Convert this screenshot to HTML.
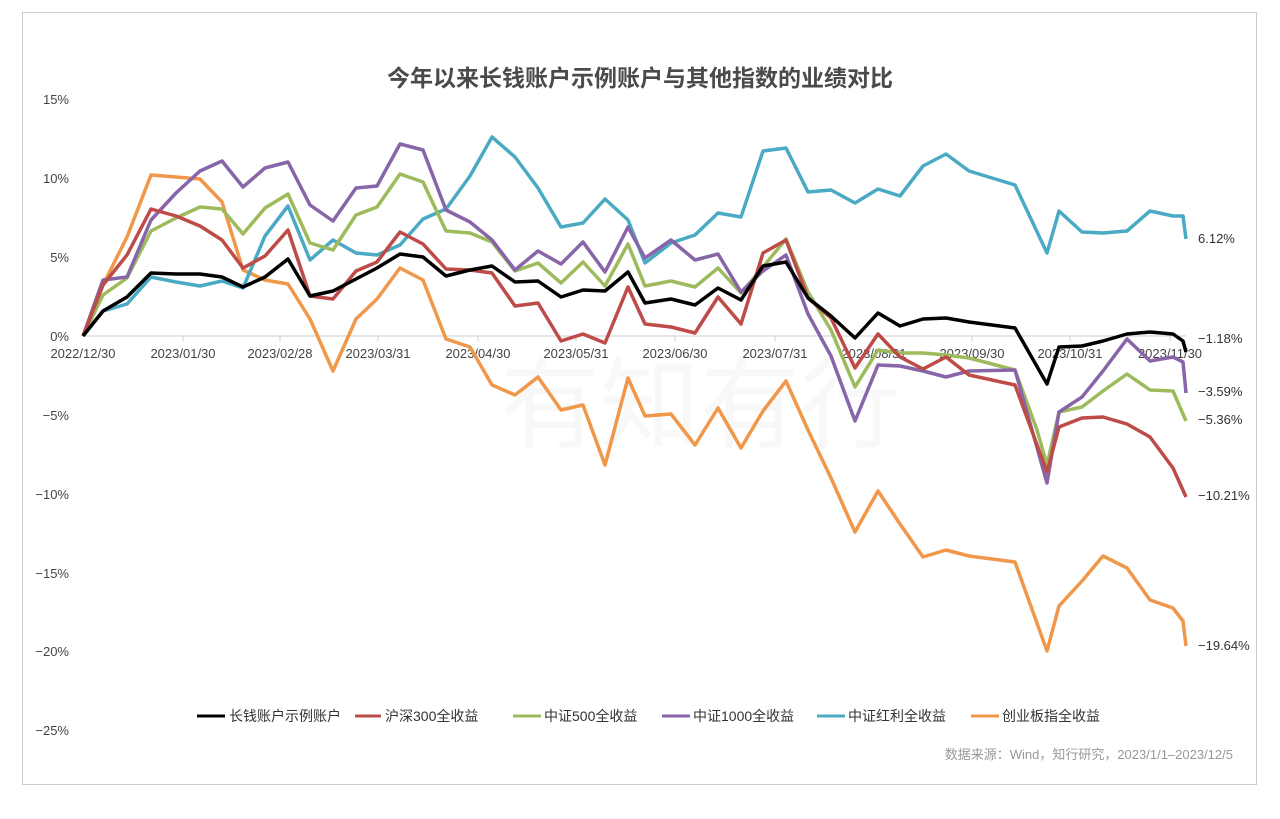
<!DOCTYPE html><html><head><meta charset="utf-8"><style>
body{margin:0;background:#fff;}
text{font-family:"Liberation Sans","Noto Sans CJK SC",sans-serif;}
</style></head><body>
<svg width="1280" height="814" xmlns="http://www.w3.org/2000/svg">
<rect x="22.5" y="12.5" width="1234" height="772" fill="#fff" stroke="#ccc"/>
<text x="640" y="86" text-anchor="middle" font-size="23" font-weight="bold" fill="#4a4a4a">今年以来长钱账户示例账户与其他指数的业绩对比</text>
<text x="700" y="440" text-anchor="middle" font-size="100" fill="#f8f8f8" font-family="Noto Serif CJK SC,serif">有知有行</text>
<g font-size="13" fill="#444" text-anchor="end">
<text x="69" y="104">15%</text><text x="69" y="183">10%</text><text x="69" y="262">5%</text><text x="69" y="341">0%</text>
<text x="69" y="420">−5%</text><text x="69" y="499">−10%</text><text x="69" y="578">−15%</text><text x="69" y="656">−20%</text><text x="69" y="735">−25%</text>
</g>
<line x1="83" y1="336" x2="1186" y2="336" stroke="#ccc"/>
<g stroke="#ccc"><line x1="183" y1="336" x2="183" y2="341"/><line x1="280" y1="336" x2="280" y2="341"/><line x1="378" y1="336" x2="378" y2="341"/><line x1="478" y1="336" x2="478" y2="341"/><line x1="576" y1="336" x2="576" y2="341"/><line x1="675" y1="336" x2="675" y2="341"/><line x1="775" y1="336" x2="775" y2="341"/><line x1="874" y1="336" x2="874" y2="341"/><line x1="972" y1="336" x2="972" y2="341"/><line x1="1070" y1="336" x2="1070" y2="341"/><line x1="1170" y1="336" x2="1170" y2="341"/></g>
<g font-size="13" fill="#444" text-anchor="middle">
<text x="83" y="358">2022/12/30</text><text x="183" y="358">2023/01/30</text><text x="280" y="358">2023/02/28</text><text x="378" y="358">2023/03/31</text><text x="478" y="358">2023/04/30</text><text x="576" y="358">2023/05/31</text><text x="675" y="358">2023/06/30</text><text x="775" y="358">2023/07/31</text><text x="874" y="358">2023/08/31</text><text x="972" y="358">2023/09/30</text><text x="1070" y="358">2023/10/31</text><text x="1170" y="358">2023/11/30</text>
</g>
<g fill="none" stroke-width="3.5" stroke-linejoin="round">
<polyline stroke="#f0974a" points="83,336 103,285 127,237 151,175 176,177 200,179 222,202 243,270 265,280 288,284 310,319 333,371 356,319 377,299 400,268 423,280 446,339 470,347 492,385 515,395 538,377 561,410 583,405 605,465 628,378 645,416 671,414 695,445 718,408 741,448 763,411 786,381 808,430 831,478 855,532 878,491 900,524 923,557 946,550 969,556 1015,562 1047,651 1059,606 1082,581 1103,556 1127,568 1150,600 1173,608 1183,621 1186,646"/>
<polyline stroke="#4aaac4" points="83,336 103,311 127,304 151,277 176,282 200,286 222,281 243,288 265,236 288,206 310,260 333,240 356,253 377,255 400,245 423,219 446,209 470,176 492,137 515,157 538,188 561,227 583,223 605,199 628,220 645,263 671,243 695,235 718,213 741,217 763,151 786,148 808,192 831,190 855,203 878,189 900,196 923,166 946,154 969,171 1015,185 1047,253 1059,211 1082,232 1103,233 1127,231 1150,211 1173,216 1183,216 1186,239"/>
<polyline stroke="#9dbb5c" points="83,336 103,295 127,278 151,231 176,218 200,207 222,209 243,234 265,208 288,194 310,243 333,250 356,215 377,207 400,174 423,182 446,231 470,233 492,242 515,271 538,263 561,283 583,262 605,286 628,244 645,286 671,281 695,287 718,268 741,293 763,267 786,239 808,292 831,330 855,387 878,350 900,353 923,353 946,355 969,358 1015,370 1037,430 1047,465 1059,412 1082,407 1103,391 1127,374 1150,390 1173,391 1186,421"/>
<polyline stroke="#8765a8" points="83,336 103,280 127,277 151,220 176,193 200,171 222,161 243,187 265,168 288,162 310,205 333,221 356,188 377,186 400,144 423,150 446,210 470,222 492,240 515,270 538,251 561,264 583,242 605,272 628,227 645,258 671,240 695,260 718,254 741,292 763,271 786,255 808,314 831,356 855,421 878,365 900,366 923,371 946,377 969,371 1015,370 1047,483 1059,412 1082,397 1103,371 1127,339 1150,361 1173,357 1183,362 1186,393"/>
<polyline stroke="#bd4b47" points="83,336 103,285 127,255 151,209 176,216 200,226 222,240 243,268 265,256 288,230 310,296 333,299 356,271 377,262 400,232 423,244 446,269 470,270 492,273 515,306 538,303 561,341 583,334 605,343 628,287 645,324 671,327 695,333 718,297 741,324 763,253 786,240 808,298 831,318 855,368 878,334 900,357 923,369 946,357 969,375 1015,385 1047,472 1059,427 1082,418 1103,417 1127,424 1150,437 1173,468 1186,497"/>
<polyline stroke="#000" points="83,336 103,311 127,297 151,273 176,274 200,274 222,277 243,287 265,277 288,259 310,296 333,291 356,279 377,268 400,254 423,257 446,276 470,270 492,266 515,282 538,281 561,297 583,290 605,291 628,272 645,303 671,299 695,305 718,288 741,300 763,266 786,262 808,298 831,316 855,338 878,313 900,326 923,319 946,318 969,322 1015,328 1047,384 1059,347 1082,346 1103,341 1127,334 1150,332 1173,334 1183,341 1186,352"/>
</g>
<g font-size="13" fill="#333">
<text x="1198" y="243">6.12%</text><text x="1198" y="343">−1.18%</text><text x="1198" y="396">−3.59%</text><text x="1198" y="424">−5.36%</text><text x="1198" y="500">−10.21%</text><text x="1198" y="650">−19.64%</text>
</g>
<g stroke-width="3">
<line x1="197" y1="716" x2="225" y2="716" stroke="#000"/><line x1="355" y1="716" x2="381" y2="716" stroke="#bd4b47"/><line x1="513" y1="716" x2="541" y2="716" stroke="#9dbb5c"/><line x1="662" y1="716" x2="690" y2="716" stroke="#8765a8"/><line x1="817" y1="716" x2="845" y2="716" stroke="#4aaac4"/><line x1="971" y1="716" x2="999" y2="716" stroke="#f0974a"/>
</g>
<g font-size="14" fill="#333">
<text x="229" y="721">长钱账户示例账户</text><text x="385" y="721">沪深300全收益</text><text x="544" y="721">中证500全收益</text><text x="693" y="721">中证1000全收益</text><text x="848" y="721">中证红利全收益</text><text x="1002" y="721">创业板指全收益</text>
</g>
<text x="1233" y="759" text-anchor="end" font-size="13" fill="#999">数据来源：Wind，知行研究，2023/1/1–2023/12/5</text>
</svg>
</body></html>
